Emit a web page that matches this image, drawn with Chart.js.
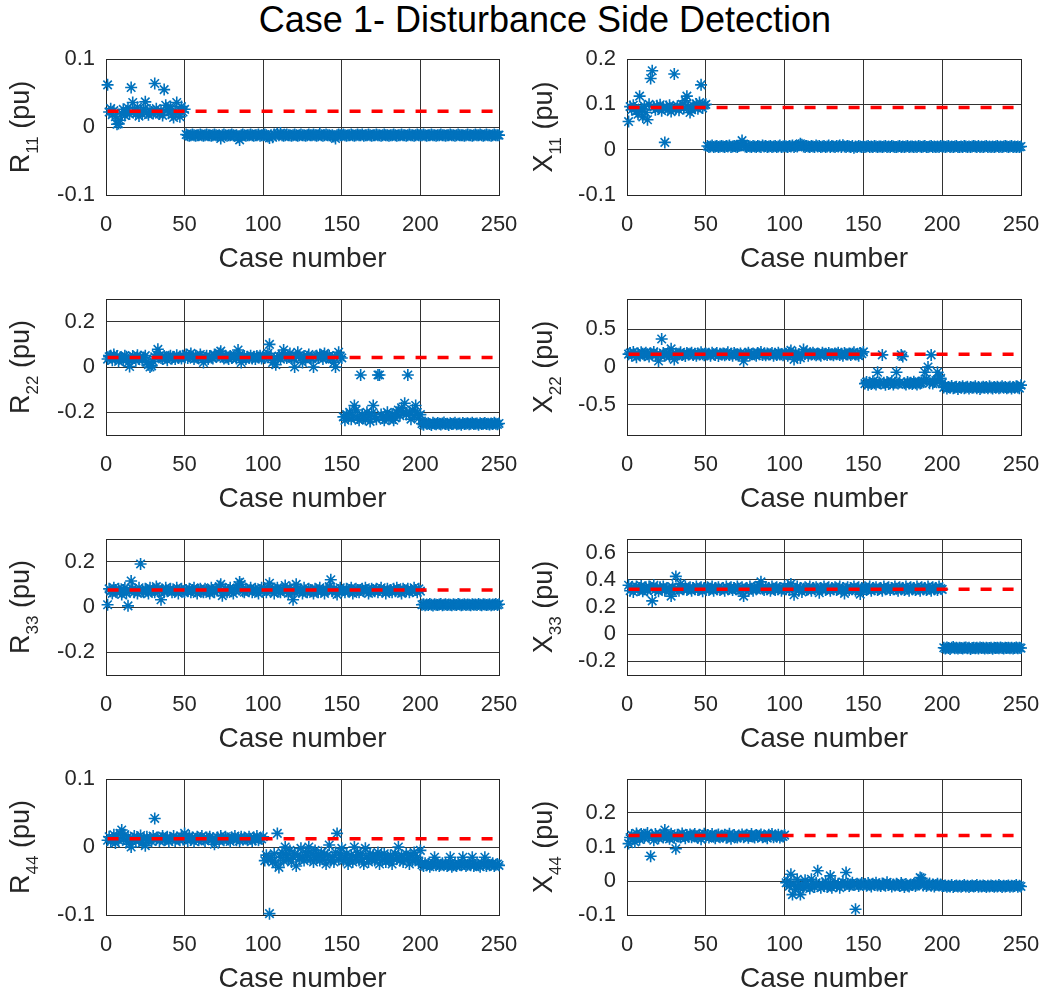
<!DOCTYPE html>
<html><head><meta charset="utf-8">
<script src="https://cdn.jsdelivr.net/npm/chart.js@4.4.1/dist/chart.umd.min.js"></script>
<style>
html,body{margin:0;padding:0;width:1050px;height:995px;overflow:hidden;background:#fff;}
#title{position:absolute;left:0;top:0;width:1090px;text-align:center;font:36px "Liberation Sans",Arial,sans-serif;line-height:40px;color:#000;}
canvas{position:absolute;}
</style></head><body>
<div id="title">Case 1- Disturbance Side Detection</div>
<script>
const caseTicks = [0,50,100,150,200,250];

const R11 = [
0.062,0.022,0.027,0.018,0.024,0.015,0.004,0.005,0.010,0.020,
0.026,0.017,0.022,0.028,0.019,0.058,0.036,0.024,0.020,0.029,
0.016,0.023,0.019,0.026,0.037,0.021,0.018,0.025,0.022,0.020,
0.064,0.027,0.021,0.019,0.024,0.017,0.055,0.032,0.026,0.022,
0.030,0.018,0.014,0.024,0.036,0.020,0.015,0.030,0.022,0.026,
-0.011,-0.012,-0.013,-0.012,-0.011,-0.012,-0.013,-0.012,-0.012,-0.011,
-0.012,-0.013,-0.012,-0.011,-0.012,-0.012,-0.013,-0.012,-0.011,-0.012,
-0.013,-0.012,-0.017,-0.012,-0.011,-0.012,-0.013,-0.012,-0.012,-0.011,
-0.012,-0.013,-0.012,-0.015,-0.019,-0.012,-0.011,-0.012,-0.013,-0.012,
-0.012,-0.011,-0.012,-0.013,-0.012,-0.012,-0.011,-0.013,-0.012,-0.012,
-0.011,-0.012,-0.014,-0.016,-0.012,-0.015,-0.011,-0.012,-0.010,-0.012,
-0.009,-0.012,-0.013,-0.012,-0.011,-0.012,-0.012,-0.013,-0.012,-0.011,
-0.012,-0.013,-0.012,-0.011,-0.012,-0.012,-0.013,-0.012,-0.011,-0.012,
-0.012,-0.011,-0.012,-0.013,-0.012,-0.010,-0.012,-0.013,-0.012,-0.011,
-0.012,-0.012,-0.013,-0.012,-0.014,-0.017,-0.012,-0.011,-0.012,-0.012,
-0.011,-0.012,-0.013,-0.012,-0.012,-0.011,-0.012,-0.013,-0.012,-0.011,
-0.012,-0.012,-0.011,-0.013,-0.012,-0.012,-0.011,-0.012,-0.013,-0.012,
-0.012,-0.011,-0.012,-0.012,-0.013,-0.012,-0.011,-0.012,-0.012,-0.013,
-0.012,-0.012,-0.011,-0.012,-0.013,-0.012,-0.012,-0.011,-0.012,-0.012,
-0.013,-0.012,-0.011,-0.012,-0.012,-0.013,-0.012,-0.011,-0.012,-0.012,
-0.012,-0.011,-0.012,-0.013,-0.012,-0.012,-0.011,-0.012,-0.012,-0.013,
-0.012,-0.012,-0.011,-0.012,-0.012,-0.013,-0.012,-0.012,-0.011,-0.012,
-0.012,-0.013,-0.012,-0.011,-0.012,-0.012,-0.012,-0.013,-0.012,-0.011,
-0.012,-0.012,-0.013,-0.012,-0.011,-0.012,-0.012,-0.011,-0.012,-0.013,
-0.012,-0.011,-0.012,-0.012,-0.013,-0.012,-0.011,-0.012,-0.012,-0.012];

const X11 = [
0.062,0.095,0.088,0.098,0.092,0.085,0.078,0.118,0.090,0.072,
0.096,0.082,0.066,0.100,0.157,0.174,0.094,0.088,0.097,0.091,
0.099,0.086,0.093,0.016,0.095,0.089,0.098,0.084,0.092,0.167,
0.090,0.096,0.087,0.094,0.100,0.091,0.108,0.118,0.095,0.082,
0.088,0.097,0.093,0.101,0.090,0.104,0.143,0.092,0.098,0.100,
0.008,0.006,0.007,0.009,0.006,0.007,0.008,0.006,0.007,0.008,
0.007,0.006,0.008,0.007,0.009,0.006,0.007,0.008,0.007,0.006,
0.008,0.010,0.020,0.012,0.007,0.006,0.008,0.007,0.006,0.008,
0.007,0.006,0.008,0.007,0.006,0.009,0.007,0.008,0.006,0.007,
0.008,0.006,0.007,0.008,0.006,0.007,0.009,0.006,0.007,0.008,
0.007,0.006,0.008,0.007,0.009,0.006,0.008,0.007,0.010,0.013,
0.011,0.007,0.006,0.008,0.007,0.006,0.008,0.007,0.006,0.009,
0.007,0.008,0.006,0.007,0.008,0.006,0.007,0.009,0.006,0.008,
0.007,0.006,0.008,0.007,0.009,0.006,0.010,0.007,0.006,0.008,
0.007,0.006,0.008,0.004,0.007,0.006,0.008,0.007,0.006,0.007,
0.006,0.007,0.008,0.006,0.007,0.006,0.008,0.007,0.006,0.007,
0.007,0.006,0.007,0.008,0.006,0.007,0.006,0.008,0.007,0.006,
0.006,0.007,0.008,0.006,0.007,0.006,0.007,0.008,0.006,0.007,
0.007,0.006,0.007,0.006,0.008,0.007,0.006,0.007,0.008,0.006,
0.006,0.007,0.008,0.006,0.007,0.006,0.007,0.006,0.008,0.007,
0.007,0.006,0.007,0.008,0.006,0.007,0.006,0.007,0.008,0.006,
0.006,0.007,0.006,0.008,0.007,0.006,0.007,0.006,0.007,0.008,
0.007,0.006,0.008,0.006,0.007,0.006,0.007,0.008,0.006,0.007,
0.006,0.007,0.006,0.007,0.008,0.006,0.007,0.006,0.007,0.008,
0.007,0.006,0.007,0.008,0.006,0.007,0.006,0.007,0.006,0.007];

const R22 = [
0.035,0.045,0.050,0.030,0.055,0.040,0.048,0.025,0.042,0.038,
0.030,0.050,0.045,0.020,0.002,0.035,0.048,0.040,0.028,0.052,
0.038,0.045,0.030,0.042,0.050,0.020,0.010,0.000,0.005,0.025,
0.045,0.055,0.078,0.050,0.040,0.035,0.048,0.042,0.030,0.045,
0.050,0.038,0.044,0.035,0.052,0.040,0.046,0.038,0.050,0.042,
0.055,0.040,0.048,0.060,0.045,0.035,0.050,0.042,0.038,0.055,
0.045,0.020,0.040,0.050,0.035,0.048,0.042,0.038,0.055,0.045,
0.050,0.060,0.070,0.045,0.038,0.050,0.042,0.035,0.048,0.040,
0.045,0.050,0.038,0.075,0.055,0.020,0.042,0.048,0.035,0.045,
0.040,0.050,0.038,0.045,0.035,0.048,0.042,0.050,0.038,0.045,
0.040,0.050,0.060,0.100,0.045,0.020,0.030,0.010,0.040,0.048,
0.035,0.055,0.075,0.050,0.040,0.045,0.060,0.042,0.038,0.000,
0.045,0.065,0.050,0.040,0.020,0.048,0.035,0.045,0.055,0.040,
0.038,0.000,0.045,0.050,0.040,0.055,0.048,0.035,0.060,0.042,
0.045,0.050,0.040,0.035,0.020,0.000,0.050,0.065,0.045,0.040,
-0.220,-0.235,-0.210,-0.225,-0.200,-0.230,-0.215,-0.170,-0.190,-0.225,
-0.235,-0.035,-0.210,-0.225,-0.230,-0.200,-0.215,-0.240,-0.205,-0.170,
-0.220,-0.230,-0.035,-0.035,-0.210,-0.225,-0.235,-0.215,-0.200,-0.230,
-0.220,-0.210,-0.235,-0.225,-0.200,-0.190,-0.215,-0.180,-0.200,-0.160,
-0.210,-0.035,-0.200,-0.230,-0.190,-0.215,-0.170,-0.200,-0.225,-0.210,
-0.250,-0.255,-0.245,-0.250,-0.248,-0.252,-0.256,-0.246,-0.250,-0.253,
-0.247,-0.250,-0.254,-0.249,-0.245,-0.251,-0.250,-0.256,-0.248,-0.252,
-0.250,-0.246,-0.253,-0.250,-0.249,-0.255,-0.247,-0.251,-0.250,-0.248,
-0.253,-0.250,-0.246,-0.252,-0.250,-0.249,-0.255,-0.248,-0.251,-0.250,
-0.247,-0.252,-0.250,-0.254,-0.249,-0.251,-0.246,-0.250,-0.253,-0.249];

const X22 = [
0.170,0.185,0.150,0.200,0.165,0.130,0.180,0.160,0.195,0.175,
0.155,0.190,0.170,0.140,0.180,0.165,0.200,0.150,0.175,0.080,
0.160,0.370,0.185,0.150,0.170,0.190,0.140,0.240,0.165,0.100,
0.180,0.155,0.175,0.195,0.160,0.170,0.145,0.185,0.165,0.175,
0.190,0.160,0.175,0.150,0.180,0.165,0.195,0.170,0.155,0.180,
0.165,0.175,0.150,0.190,0.170,0.160,0.185,0.145,0.175,0.165,
0.180,0.155,0.170,0.195,0.160,0.175,0.150,0.185,0.165,0.170,
0.160,0.180,0.140,0.080,0.175,0.165,0.190,0.155,0.170,0.180,
0.165,0.150,0.185,0.170,0.200,0.160,0.175,0.155,0.180,0.165,
0.170,0.185,0.150,0.175,0.160,0.190,0.165,0.170,0.155,0.180,
0.175,0.150,0.190,0.220,0.160,0.100,0.185,0.130,0.170,0.120,
0.165,0.230,0.175,0.200,0.150,0.180,0.165,0.190,0.170,0.155,
0.180,0.165,0.150,0.190,0.170,0.175,0.160,0.185,0.165,0.170,
0.155,0.180,0.170,0.190,0.160,0.175,0.150,0.185,0.170,0.165,
0.180,0.160,0.175,0.195,0.165,0.170,0.150,0.185,0.175,0.200,
-0.220,-0.200,-0.235,-0.210,-0.225,-0.190,-0.215,-0.230,-0.070,-0.205,
-0.220,0.160,-0.210,-0.235,-0.200,-0.225,-0.215,-0.190,-0.230,-0.210,
-0.070,-0.220,-0.205,0.160,0.140,-0.215,-0.230,-0.200,-0.220,-0.210,
-0.225,-0.195,-0.215,-0.230,-0.205,-0.220,-0.210,-0.190,-0.070,-0.160,
0.000,-0.215,0.160,-0.220,-0.200,-0.180,-0.070,-0.120,-0.150,-0.210,
-0.270,-0.255,-0.285,-0.265,-0.275,-0.250,-0.280,-0.270,-0.260,-0.290,
-0.265,-0.275,-0.255,-0.280,-0.270,-0.260,-0.285,-0.265,-0.275,-0.270,
-0.255,-0.280,-0.265,-0.290,-0.270,-0.260,-0.275,-0.265,-0.280,-0.255,
-0.270,-0.285,-0.265,-0.275,-0.260,-0.280,-0.270,-0.255,-0.275,-0.265,
-0.280,-0.270,-0.260,-0.285,-0.265,-0.275,-0.255,-0.270,-0.280,-0.240];

const R33 = [
0.010,0.080,0.070,0.060,0.085,0.075,0.065,0.080,0.070,0.055,
0.075,0.085,0.060,0.005,0.070,0.115,0.080,0.065,0.075,0.060,
0.085,0.190,0.070,0.065,0.080,0.075,0.060,0.085,0.070,0.075,
0.065,0.090,0.080,0.070,0.032,0.075,0.065,0.085,0.070,0.075,
0.080,0.065,0.075,0.070,0.085,0.060,0.075,0.080,0.070,0.065,
0.075,0.070,0.080,0.065,0.075,0.085,0.070,0.060,0.075,0.080,
0.070,0.065,0.080,0.075,0.070,0.060,0.085,0.075,0.065,0.080,
0.075,0.090,0.100,0.050,0.070,0.080,0.065,0.075,0.085,0.070,
0.060,0.075,0.080,0.095,0.110,0.100,0.070,0.065,0.080,0.075,
0.070,0.085,0.065,0.075,0.080,0.070,0.060,0.075,0.085,0.070,
0.075,0.065,0.090,0.105,0.070,0.080,0.060,0.075,0.085,0.070,
0.065,0.080,0.075,0.095,0.070,0.060,0.085,0.075,0.032,0.065,
0.100,0.080,0.070,0.075,0.060,0.085,0.070,0.065,0.080,0.075,
0.070,0.060,0.080,0.075,0.065,0.085,0.070,0.075,0.060,0.080,
0.075,0.090,0.120,0.070,0.080,0.065,0.055,0.075,0.085,0.070,
0.075,0.065,0.080,0.070,0.075,0.085,0.060,0.070,0.080,0.075,
0.065,0.075,0.080,0.070,0.085,0.075,0.060,0.070,0.080,0.075,
0.070,0.080,0.065,0.075,0.085,0.070,0.075,0.060,0.080,0.070,
0.075,0.065,0.080,0.070,0.085,0.075,0.070,0.060,0.080,0.075,
0.070,0.080,0.065,0.075,0.070,0.085,0.075,0.065,0.080,0.070,
0.010,0.012,0.008,0.011,0.009,0.013,0.010,0.007,0.012,0.010,
0.009,0.011,0.013,0.008,0.010,0.012,0.009,0.011,0.010,0.008,
0.012,0.010,0.009,0.013,0.011,0.008,0.010,0.012,0.009,0.011,
0.010,0.008,0.012,0.010,0.011,0.009,0.013,0.010,0.008,0.012,
0.011,0.009,0.010,0.012,0.008,0.011,0.010,0.013,0.009,0.012];

const X33 = [
0.360,0.320,0.345,0.310,0.335,0.350,0.325,0.340,0.355,0.315,
0.330,0.345,0.320,0.350,0.335,0.245,0.360,0.325,0.340,0.315,
0.345,0.330,0.350,0.320,0.335,0.340,0.325,0.280,0.345,0.330,
0.425,0.335,0.320,0.370,0.340,0.330,0.350,0.325,0.335,0.345,
0.320,0.340,0.330,0.350,0.325,0.335,0.345,0.315,0.340,0.330,
0.345,0.325,0.335,0.350,0.320,0.340,0.330,0.345,0.325,0.335,
0.340,0.320,0.350,0.330,0.335,0.345,0.325,0.340,0.330,0.350,
0.335,0.320,0.345,0.280,0.330,0.340,0.325,0.350,0.335,0.320,
0.345,0.330,0.340,0.360,0.385,0.335,0.325,0.345,0.330,0.340,
0.320,0.350,0.335,0.325,0.345,0.330,0.340,0.320,0.335,0.350,
0.330,0.345,0.325,0.370,0.340,0.290,0.335,0.350,0.320,0.340,
0.310,0.335,0.345,0.325,0.330,0.350,0.320,0.340,0.330,0.345,
0.335,0.305,0.340,0.330,0.350,0.325,0.335,0.345,0.320,0.340,
0.330,0.345,0.325,0.335,0.350,0.320,0.340,0.300,0.335,0.345,
0.325,0.340,0.330,0.350,0.320,0.335,0.345,0.295,0.340,0.330,
0.345,0.325,0.335,0.350,0.320,0.340,0.330,0.345,0.325,0.335,
0.340,0.320,0.350,0.330,0.335,0.345,0.325,0.340,0.330,0.350,
0.335,0.320,0.345,0.330,0.340,0.325,0.350,0.335,0.320,0.345,
0.330,0.340,0.325,0.350,0.335,0.320,0.345,0.330,0.340,0.325,
0.350,0.335,0.320,0.345,0.330,0.340,0.325,0.350,0.335,0.330,
-0.100,-0.105,-0.098,-0.102,-0.108,-0.100,-0.095,-0.103,-0.100,-0.106,
-0.099,-0.102,-0.105,-0.100,-0.097,-0.104,-0.100,-0.108,-0.101,-0.099,
-0.103,-0.100,-0.106,-0.098,-0.102,-0.100,-0.105,-0.099,-0.103,-0.101,
-0.100,-0.107,-0.099,-0.102,-0.100,-0.104,-0.098,-0.101,-0.105,-0.100,
-0.102,-0.099,-0.104,-0.100,-0.106,-0.101,-0.098,-0.103,-0.100,-0.102];

const R44 = [
0.010,0.015,0.008,0.012,0.018,0.006,0.014,0.010,0.020,0.025,
0.012,0.018,0.008,0.015,0.004,0.000,0.012,0.016,0.009,0.014,
0.011,0.017,0.006,0.013,0.002,0.015,0.010,0.012,0.008,0.016,
0.042,0.011,0.014,0.009,0.013,0.016,0.010,0.012,0.015,0.008,
0.013,0.011,0.016,0.009,0.014,0.012,0.010,0.015,0.011,0.020,
0.013,0.009,0.016,0.011,0.014,0.008,0.012,0.015,0.010,0.013,
0.016,0.011,0.009,0.014,0.012,0.015,0.010,0.013,0.004,0.011,
0.014,0.009,0.016,0.012,0.010,0.015,0.013,0.011,0.008,0.014,
0.012,0.016,0.010,0.013,0.009,0.015,0.011,0.014,0.012,0.010,
0.015,0.012,0.009,0.014,0.011,0.016,0.010,0.013,0.012,0.015,
-0.020,-0.012,-0.018,-0.098,-0.015,-0.022,-0.010,-0.025,0.020,-0.030,
-0.015,-0.008,-0.020,0.000,-0.012,-0.018,-0.005,-0.022,-0.015,-0.010,
-0.028,-0.012,-0.018,-0.002,-0.015,-0.020,-0.008,-0.012,0.000,-0.018,
-0.010,-0.022,-0.005,-0.015,-0.012,-0.020,-0.008,-0.018,-0.010,-0.025,
-0.012,0.003,-0.020,-0.015,-0.022,-0.008,0.020,-0.018,-0.012,-0.002,
-0.020,-0.015,-0.010,-0.025,-0.018,-0.012,-0.022,0.000,-0.015,-0.008,
-0.020,-0.012,-0.018,-0.025,-0.002,-0.015,-0.022,-0.010,-0.018,-0.012,
-0.020,-0.015,-0.008,-0.025,-0.012,-0.018,-0.010,-0.022,-0.015,-0.020,
-0.012,-0.025,-0.018,-0.010,-0.015,0.000,-0.020,-0.012,-0.022,-0.018,
-0.010,-0.015,-0.025,-0.012,-0.020,-0.008,-0.018,-0.015,-0.022,-0.005,
-0.026,-0.028,-0.024,-0.027,-0.025,-0.029,-0.026,-0.023,-0.015,-0.027,
-0.025,-0.028,-0.026,-0.024,-0.027,-0.025,-0.028,-0.026,-0.015,-0.029,
-0.027,-0.025,-0.028,-0.024,-0.026,-0.027,-0.015,-0.025,-0.028,-0.026,
-0.024,-0.027,-0.015,-0.028,-0.026,-0.025,-0.027,-0.029,-0.024,-0.026,
-0.015,-0.028,-0.025,-0.027,-0.026,-0.024,-0.028,-0.026,-0.025,-0.027];

const X44 = [
0.110,0.128,0.135,0.125,0.115,0.140,0.130,0.122,0.138,0.132,
0.127,0.136,0.141,0.129,0.073,0.134,0.120,0.138,0.131,0.126,
0.137,0.133,0.128,0.150,0.135,0.130,0.124,0.139,0.132,0.127,
0.095,0.136,0.131,0.128,0.140,0.133,0.126,0.135,0.130,0.137,
0.129,0.134,0.138,0.131,0.127,0.136,0.123,0.133,0.139,0.130,
0.135,0.128,0.132,0.138,0.130,0.126,0.134,0.137,0.129,0.133,
0.131,0.136,0.127,0.133,0.139,0.124,0.132,0.135,0.130,0.128,
0.134,0.130,0.137,0.129,0.133,0.136,0.127,0.132,0.138,0.131,
0.128,0.135,0.130,0.133,0.137,0.129,0.134,0.131,0.126,0.136,
0.132,0.138,0.129,0.134,0.130,0.136,0.128,0.133,0.131,0.135,
-0.005,0.000,-0.015,0.020,-0.040,-0.010,-0.025,0.005,-0.018,-0.040,
-0.012,-0.020,0.002,-0.008,-0.015,-0.022,0.005,-0.010,-0.018,-0.005,
0.030,-0.012,-0.020,-0.008,-0.015,-0.002,-0.018,-0.010,0.015,-0.020,
-0.012,-0.005,-0.015,-0.008,-0.020,-0.010,-0.003,-0.012,0.025,-0.008,
-0.015,-0.010,-0.005,-0.012,-0.083,-0.008,-0.015,-0.010,-0.006,-0.012,
-0.009,-0.014,-0.006,-0.011,-0.016,-0.008,-0.012,-0.005,-0.013,-0.010,
-0.015,-0.007,-0.011,-0.014,-0.004,-0.012,-0.009,-0.016,-0.010,-0.013,
-0.008,-0.012,-0.015,-0.006,-0.011,-0.018,-0.009,-0.013,-0.016,-0.010,
-0.012,-0.008,-0.015,-0.011,-0.006,0.010,0.008,-0.013,-0.009,-0.015,
-0.011,-0.007,-0.014,-0.010,-0.016,-0.012,-0.008,-0.013,-0.010,-0.015,
-0.015,-0.013,-0.017,-0.014,-0.016,-0.012,-0.018,-0.015,-0.013,-0.016,
-0.014,-0.017,-0.015,-0.012,-0.016,-0.014,-0.018,-0.015,-0.013,-0.016,
-0.015,-0.012,-0.017,-0.014,-0.016,-0.013,-0.015,-0.018,-0.014,-0.016,
-0.013,-0.015,-0.017,-0.014,-0.016,-0.012,-0.015,-0.018,-0.014,-0.016,
-0.015,-0.013,-0.017,-0.014,-0.016,-0.015,-0.012,-0.017,-0.014,-0.016];

// reference (threshold) levels
const refLevels = {R11:0.023, X11:0.093, R22:0.042, X22:0.170, R33:0.075, X33:0.330, R44:0.012, X44:0.134};
// y-axis ranges and tick labels
const yRanges = {R11:[-0.1,0.1], X11:[-0.1,0.2], R22:[-0.3,0.3], X22:[-0.9,0.9], R33:[-0.3,0.3], X33:[-0.3,0.7], R44:[-0.1,0.1], X44:[-0.1,0.3]};
const yTickVals = {
  R11:[-0.1,0,0.1], X11:[-0.1,0,0.1,0.2],
  R22:[-0.2,0,0.2], X22:[-0.5,0,0.5],
  R33:[-0.2,0,0.2], X33:[-0.2,0,0.2,0.4,0.6],
  R44:[-0.1,0,0.1], X44:[-0.1,0,0.1,0.2]
};
const seriesData = {R11,X11,R22,X22,R33,X33,R44,X44};

const FONT = '"Liberation Sans", Arial, sans-serif';
const TXT = '#262626';

const boxPlugin = {
  id:'boxPlugin',
  beforeDatasetsDraw(chart){
    const a = chart.chartArea, ctx = chart.ctx;
    ctx.save();
    ctx.strokeStyle = '#262626';
    ctx.lineWidth = 1;
    ctx.strokeRect(Math.round(a.left)+0.5, Math.round(a.top)+0.5, Math.round(a.right-a.left), Math.round(a.bottom-a.top));
    ctx.restore();
  },
  afterDraw(chart, args, opts){
    const a = chart.chartArea, ctx = chart.ctx;
    ctx.save();
    ctx.fillStyle = TXT;
    const cy = (a.top + a.bottom)/2;
    ctx.translate(opts.x, cy);
    ctx.rotate(-Math.PI/2);
    ctx.textBaseline = 'alphabetic';
    ctx.textAlign = 'left';
    const mainF = '27px ' + FONT, subF = '17px ' + FONT;
    ctx.font = mainF; const w1 = ctx.measureText(opts.main).width; const w3 = ctx.measureText(' (pu)').width;
    ctx.font = subF; const w2 = ctx.measureText(opts.sub).width;
    let x0 = -(w1+w2+w3)/2;
    ctx.font = mainF; ctx.fillText(opts.main, x0, 0);
    ctx.font = subF; ctx.fillText(opts.sub, x0 + w1, 9);
    ctx.font = mainF; ctx.fillText(' (pu)', x0 + w1 + w2, 0);
    ctx.restore();
  }
};

const order = ['R11','X11','R22','X22','R33','X33','R44','X44'];
order.forEach((key, idx) => {
  const row = Math.floor(idx/2), col = idx % 2;
  const cv = document.createElement('canvas');
  cv.width = 525; cv.height = 240;
  cv.style.left = (col*525) + 'px';
  cv.style.top = (40 + 240*row) + 'px';
  cv.style.width = '525px'; cv.style.height = '240px';
  document.body.appendChild(cv);
  const yW = col === 0 ? 106 : 102;
  const padR = col === 0 ? 26 : 29;
  const vals = seriesData[key];
  const ref = refLevels[key];
  new Chart(cv, {
    type:'scatter',
    data:{datasets:[
      {type:'line', data:[{x:1,y:ref},{x:250,y:ref}], borderColor:'#FF0000', borderWidth:3.5,
       borderDash:[11,11], pointRadius:0, fill:false, order:0},
      {type:'scatter', data: vals.map((v,i)=>({x:i+1,y:v})), pointStyle:'star', pointRadius:6,
       pointHoverRadius:6, borderColor:'#0072BD', backgroundColor:'#0072BD', borderWidth:1.6, clip:false, order:1}
    ]},
    options:{
      responsive:false, animation:false, events:[],
      layout:{padding:{top:19, right:padR, left:0, bottom:0}},
      plugins:{legend:{display:false}, tooltip:{enabled:false},
        boxPlugin:{x: col===0 ? 28.5 : 26.5, main: key[0], sub: key.slice(1)}},
      scales:{
        x:{type:'linear', min:0, max:250,
          afterBuildTicks:(s)=>{ s.ticks = caseTicks.map(v=>({value:v})); },
          afterFit:(s)=>{ s.height = 85; },
          grid:{color:'#333333', lineWidth:1, drawTicks:false},
          border:{display:false},
          ticks:{autoSkip:false, maxRotation:0, padding:0, color:TXT, font:{family:FONT, size:22, lineHeight:'60px'},
            callback:(v)=>String(v)},
          title:{display:true, text:'Case number', color:TXT, font:{family:FONT, size:28}, padding:{top:0,bottom:4}}
        },
        y:{type:'linear', min:yRanges[key][0], max:yRanges[key][1],
          afterBuildTicks:(s)=>{ s.ticks = yTickVals[key].map(v=>({value:v})); },
          afterFit:(s)=>{ s.width = yW; },
          grid:{color:'#333333', lineWidth:1, drawTicks:false},
          border:{display:false},
          ticks:{autoSkip:false, padding:11, color:TXT, font:{family:FONT, size:22, lineHeight:'8px'},
            callback:(v)=>String(v)}
        }
      }
    },
    plugins:[boxPlugin]
  });
});
</script>
</body></html>
